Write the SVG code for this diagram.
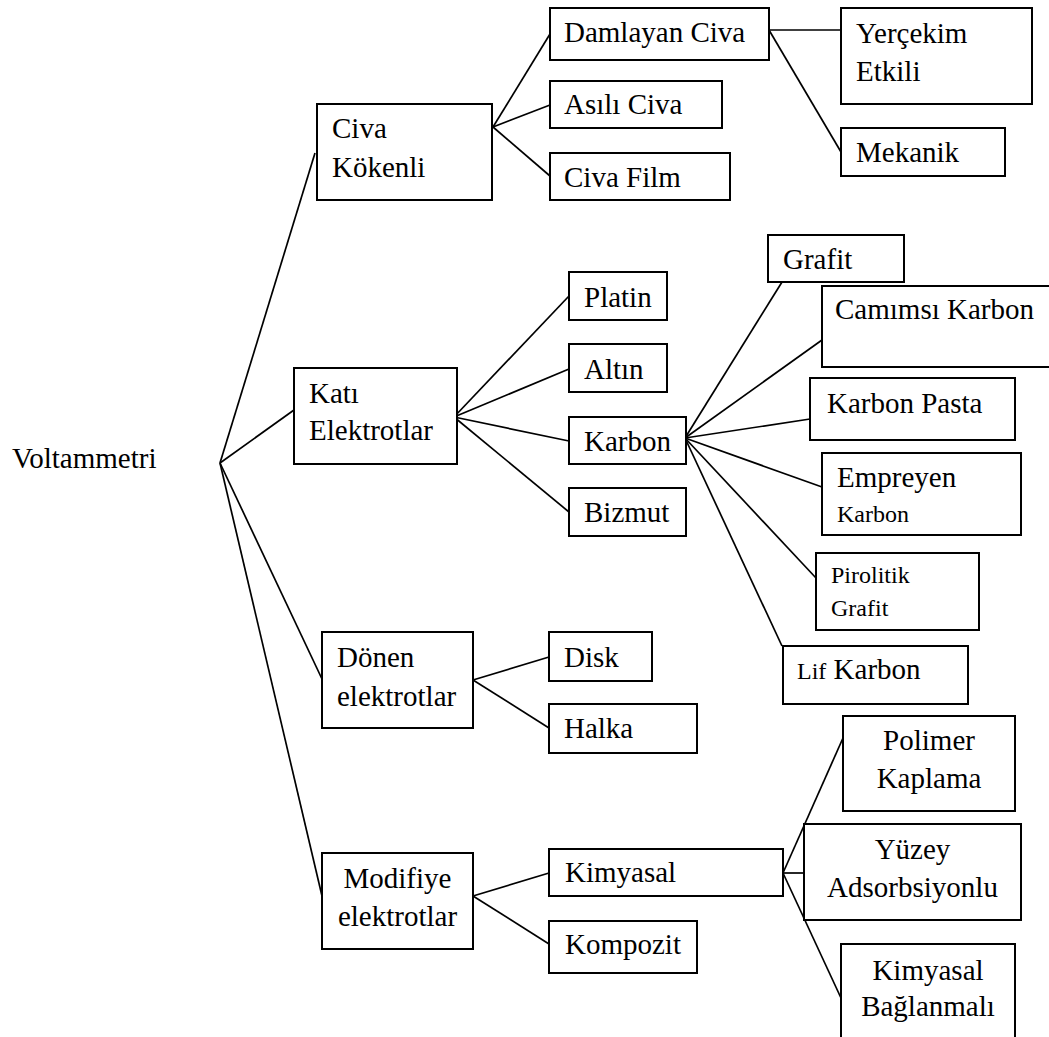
<svg xmlns="http://www.w3.org/2000/svg" width="1049" height="1037" viewBox="0 0 1049 1037">
<style>
rect{fill:#fff;stroke:#000;stroke-width:2}
text{font-family:"Liberation Serif","Times New Roman",serif;font-size:29px;fill:#000}
.s{font-size:24px}
.c{text-anchor:middle}
#connectors line{stroke:#000;stroke-width:1.7}
</style>
<rect x="0" y="0" width="1049" height="1037" style="stroke:none"/>
<g id="connectors">
<line x1="220" y1="463" x2="315" y2="153"/>
<line x1="220" y1="463" x2="294" y2="410"/>
<line x1="220" y1="463" x2="322" y2="679"/>
<line x1="220" y1="463" x2="322" y2="896"/>
<line x1="493" y1="127" x2="550" y2="34"/>
<line x1="493" y1="127" x2="550" y2="105"/>
<line x1="493" y1="127" x2="550" y2="176"/>
<line x1="769" y1="30" x2="841" y2="30"/>
<line x1="769" y1="30" x2="841" y2="152"/>
<line x1="454" y1="417" x2="569" y2="296"/>
<line x1="454" y1="417" x2="569" y2="369"/>
<line x1="454" y1="417" x2="569" y2="441"/>
<line x1="454" y1="417" x2="569" y2="512"/>
<line x1="685" y1="438" x2="782" y2="282"/>
<line x1="685" y1="438" x2="822" y2="340"/>
<line x1="685" y1="438" x2="810" y2="419"/>
<line x1="685" y1="438" x2="822" y2="487"/>
<line x1="685" y1="438" x2="816" y2="578"/>
<line x1="685" y1="438" x2="782" y2="646"/>
<line x1="473" y1="680" x2="549" y2="657"/>
<line x1="473" y1="680" x2="549" y2="728"/>
<line x1="473" y1="896" x2="549" y2="873"/>
<line x1="473" y1="896" x2="549" y2="944"/>
<line x1="783" y1="873" x2="843" y2="738"/>
<line x1="783" y1="873" x2="804" y2="873"/>
<line x1="783" y1="873" x2="841" y2="998"/>
</g>
<g id="voltammetri"><text x="12" y="468">Voltammetri</text></g>
<g id="civa-kokenli"><rect x="317" y="104" width="175" height="96"/><text x="332" y="138">Civa</text><text x="332" y="177">Kökenli</text></g>
<g id="damlayan-civa"><rect x="550" y="8" width="219" height="52"/><text x="564" y="42">Damlayan Civa</text></g>
<g id="asili-civa"><rect x="550" y="81" width="172" height="47"/><text x="564" y="114">Asılı Civa</text></g>
<g id="civa-film"><rect x="550" y="153" width="180" height="47"/><text x="564" y="187">Civa Film</text></g>
<g id="yercekim-etkili"><rect x="841" y="8" width="191" height="96"/><text x="856" y="43">Yerçekim</text><text x="856" y="81">Etkili</text></g>
<g id="mekanik"><rect x="841" y="128" width="164" height="48"/><text x="856" y="162">Mekanik</text></g>
<g id="kati-elektrotlar"><rect x="294" y="368" width="163" height="96"/><text x="309" y="403">Katı</text><text x="309" y="440">Elektrotlar</text></g>
<g id="platin"><rect x="569" y="272" width="98" height="48"/><text x="584" y="307">Platin</text></g>
<g id="altin"><rect x="569" y="344" width="98" height="48"/><text x="584" y="379">Altın</text></g>
<g id="karbon"><rect x="569" y="417" width="117" height="47"/><text x="584" y="451">Karbon</text></g>
<g id="bizmut"><rect x="569" y="488" width="117" height="48"/><text x="584" y="522">Bizmut</text></g>
<g id="grafit"><rect x="768" y="235" width="136" height="47"/><text x="783" y="269">Grafit</text></g>
<g id="camimsi-karbon"><rect x="822" y="286" width="232" height="81"/><text x="835" y="319">Camımsı Karbon</text></g>
<g id="karbon-pasta"><rect x="810" y="378" width="205" height="62"/><text x="827" y="413">Karbon Pasta</text></g>
<g id="empreyen-karbon"><rect x="822" y="453" width="199" height="82"/><text x="837" y="487">Empreyen</text><text class="s" x="837" y="522">Karbon</text></g>
<g id="pirolitik-grafit"><rect x="816" y="553" width="163" height="77"/><text class="s" x="831" y="583">Pirolitik</text><text class="s" x="831" y="616">Grafit</text></g>
<g id="lif-karbon"><rect x="783" y="646" width="185" height="58"/><text x="797" y="679"><tspan class="s">Lif</tspan> Karbon</text></g>
<g id="donen-elektrotlar"><rect x="322" y="632" width="151" height="96"/><text x="337" y="667">Dönen</text><text x="337" y="706">elektrotlar</text></g>
<g id="disk"><rect x="549" y="632" width="103" height="49"/><text x="564" y="667">Disk</text></g>
<g id="halka"><rect x="549" y="704" width="148" height="49"/><text x="564" y="738">Halka</text></g>
<g id="modifiye-elektrotlar"><rect x="322" y="853" width="151" height="96"/><text class="c" x="397.5" y="888">Modifiye</text><text class="c" x="397.5" y="926">elektrotlar</text></g>
<g id="kimyasal"><rect x="549" y="849" width="234" height="47"/><text x="565" y="882">Kimyasal</text></g>
<g id="kompozit"><rect x="549" y="921" width="148" height="52"/><text x="565" y="954">Kompozit</text></g>
<g id="polimer-kaplama"><rect x="843" y="716" width="172" height="95"/><text class="c" x="929" y="750">Polimer</text><text class="c" x="929" y="788">Kaplama</text></g>
<g id="yuzey-adsorbsiyonlu"><rect x="804" y="824" width="217" height="96"/><text class="c" x="912.5" y="859">Yüzey</text><text class="c" x="912.5" y="897">Adsorbsiyonlu</text></g>
<g id="kimyasal-baglanmali"><rect x="841" y="944" width="174" height="100"/><text class="c" x="928" y="980">Kimyasal</text><text class="c" x="928" y="1016">Bağlanmalı</text></g>
</svg>
